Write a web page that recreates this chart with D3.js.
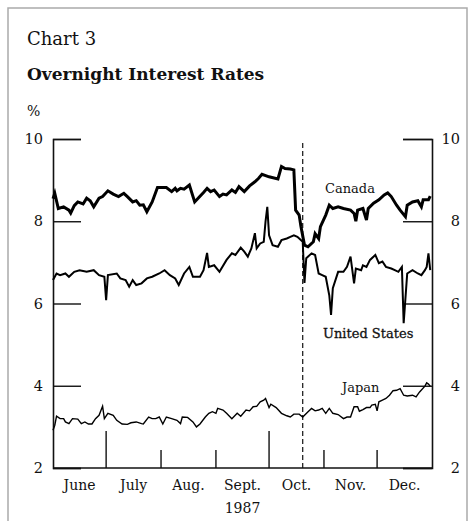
<!DOCTYPE html>
<html>
<head>
<meta charset="utf-8">
<script src="https://cdn.jsdelivr.net/npm/d3@7"></script>
<style>
    body { margin: 0; background: #fff; }
    svg text { font-family: "DejaVu Serif", serif; fill: #111; }
</style>
</head>
<body>
<div id="chart"></div>
<script>
// tick labels and month names
var yTicks = [2, 4, 6, 8, 10];
var monthLabels = ["June", "July", "Aug.", "Sept.", "Oct.", "Nov.", "Dec."];
var monthStarts = ["1987-06-01", "1987-07-01", "1987-08-01", "1987-09-01", "1987-10-01", "1987-11-01", "1987-12-01", "1988-01-01"];
var tallTicks = ["1987-07-01", "1987-10-01"];
var shortTicks = ["1987-08-01", "1987-09-01", "1987-11-01", "1987-12-01"];
var crashDate = "1987-10-20";

// overnight rates, %
var canada = [
    ["1987-06-01", 8.55], ["1987-06-02", 8.68], ["1987-06-04", 8.31], ["1987-06-07", 8.35],
    ["1987-06-10", 8.27], ["1987-06-11", 8.2], ["1987-06-13", 8.38], ["1987-06-15", 8.47],
    ["1987-06-18", 8.42], ["1987-06-20", 8.56], ["1987-06-22", 8.5], ["1987-06-24", 8.35],
    ["1987-06-27", 8.56], ["1987-06-29", 8.6], ["1987-07-02", 8.74], ["1987-07-05", 8.66],
    ["1987-07-08", 8.6], ["1987-07-11", 8.68], ["1987-07-13", 8.6], ["1987-07-16", 8.47],
    ["1987-07-18", 8.5], ["1987-07-20", 8.39], ["1987-07-22", 8.4], ["1987-07-24", 8.23],
    ["1987-07-27", 8.47], ["1987-07-30", 8.82], ["1987-08-04", 8.82], ["1987-08-07", 8.72],
    ["1987-08-09", 8.8], ["1987-08-10", 8.74], ["1987-08-12", 8.8], ["1987-08-14", 8.78],
    ["1987-08-17", 8.88], ["1987-08-20", 8.47], ["1987-08-23", 8.61], ["1987-08-25", 8.7],
    ["1987-08-27", 8.8], ["1987-08-29", 8.72], ["1987-08-31", 8.76], ["1987-09-03", 8.6],
    ["1987-09-05", 8.66], ["1987-09-07", 8.64], ["1987-09-10", 8.76], ["1987-09-12", 8.7],
    ["1987-09-14", 8.84], ["1987-09-17", 8.72], ["1987-09-20", 8.86], ["1987-09-23", 8.96],
    ["1987-09-25", 9.04], ["1987-09-27", 9.14], ["1987-10-01", 9.08], ["1987-10-06", 9.03],
    ["1987-10-08", 9.33], ["1987-10-10", 9.28], ["1987-10-13", 9.27], ["1987-10-15", 9.25],
    ["1987-10-16", 8.27], ["1987-10-18", 8.15], ["1987-10-19", 7.87], ["1987-10-21", 7.42],
    ["1987-10-23", 7.38], ["1987-10-26", 7.5], ["1987-10-27", 7.7], ["1987-10-29", 7.58],
    ["1987-10-30", 7.87], ["1987-11-02", 8.15], ["1987-11-04", 8.39], ["1987-11-06", 8.31],
    ["1987-11-09", 8.35], ["1987-11-12", 8.31], ["1987-11-16", 8.27], ["1987-11-18", 8.19],
    ["1987-11-19", 8.0], ["1987-11-20", 8.27], ["1987-11-23", 8.31], ["1987-11-25", 8.03],
    ["1987-11-26", 8.31], ["1987-11-29", 8.44], ["1987-12-02", 8.52], ["1987-12-05", 8.64],
    ["1987-12-07", 8.69], ["1987-12-09", 8.6], ["1987-12-12", 8.39], ["1987-12-14", 8.27],
    ["1987-12-17", 8.11], ["1987-12-18", 8.39], ["1987-12-21", 8.47], ["1987-12-24", 8.5],
    ["1987-12-26", 8.35], ["1987-12-27", 8.52], ["1987-12-30", 8.52], ["1987-12-31", 8.61]
];

var unitedStates = [
    ["1987-06-01", 6.57], ["1987-06-03", 6.73], ["1987-06-05", 6.69], ["1987-06-08", 6.73],
    ["1987-06-10", 6.65], ["1987-06-13", 6.77], ["1987-06-16", 6.81], ["1987-06-20", 6.77],
    ["1987-06-24", 6.81], ["1987-06-27", 6.69], ["1987-06-30", 6.65], ["1987-07-01", 6.08],
    ["1987-07-02", 6.69], ["1987-07-07", 6.73], ["1987-07-09", 6.61], ["1987-07-12", 6.57],
    ["1987-07-14", 6.41], ["1987-07-16", 6.57], ["1987-07-18", 6.45], ["1987-07-21", 6.49],
    ["1987-07-24", 6.61], ["1987-07-27", 6.65], ["1987-07-31", 6.73], ["1987-08-03", 6.81],
    ["1987-08-06", 6.69], ["1987-08-09", 6.61], ["1987-08-11", 6.45], ["1987-08-14", 6.73],
    ["1987-08-17", 6.89], ["1987-08-19", 6.65], ["1987-08-23", 6.65], ["1987-08-25", 6.81],
    ["1987-08-27", 7.23], ["1987-08-28", 6.89], ["1987-08-31", 6.93], ["1987-09-03", 6.77],
    ["1987-09-07", 7.06], ["1987-09-10", 7.22], ["1987-09-12", 7.18], ["1987-09-15", 7.36],
    ["1987-09-17", 7.26], ["1987-09-19", 7.14], ["1987-09-21", 7.34], ["1987-09-23", 7.71],
    ["1987-09-24", 7.34], ["1987-09-26", 7.46], ["1987-09-28", 7.5], ["1987-09-29", 7.99],
    ["1987-09-30", 8.35], ["1987-10-01", 7.66], ["1987-10-03", 7.42], ["1987-10-06", 7.38],
    ["1987-10-08", 7.54], ["1987-10-11", 7.58], ["1987-10-13", 7.62], ["1987-10-15", 7.66],
    ["1987-10-17", 7.62], ["1987-10-20", 7.5], ["1987-10-21", 6.5], ["1987-10-22", 7.1],
    ["1987-10-25", 7.22], ["1987-10-27", 7.18], ["1987-10-29", 6.73], ["1987-10-31", 6.69],
    ["1987-11-02", 6.65], ["1987-11-04", 6.2], ["1987-11-05", 5.72], ["1987-11-06", 6.37],
    ["1987-11-09", 6.77], ["1987-11-12", 6.77], ["1987-11-14", 6.89], ["1987-11-16", 7.14],
    ["1987-11-18", 6.49], ["1987-11-19", 6.85], ["1987-11-22", 6.81], ["1987-11-23", 6.93],
    ["1987-11-25", 6.89], ["1987-11-27", 7.06], ["1987-11-30", 7.18], ["1987-12-02", 6.98],
    ["1987-12-04", 7.02], ["1987-12-06", 6.89], ["1987-12-09", 6.85], ["1987-12-11", 6.81],
    ["1987-12-13", 6.77], ["1987-12-15", 6.89], ["1987-12-16", 5.52], ["1987-12-18", 6.73],
    ["1987-12-21", 6.81], ["1987-12-24", 6.73], ["1987-12-26", 6.69], ["1987-12-28", 6.81],
    ["1987-12-29", 6.89], ["1987-12-30", 7.22], ["1987-12-31", 6.81]
];

var japan = [
    ["1987-06-01", 2.92], ["1987-06-02", 3.04], ["1987-06-03", 3.26], ["1987-06-05", 3.2],
    ["1987-06-07", 3.2], ["1987-06-08", 3.12], ["1987-06-10", 3.08], ["1987-06-12", 3.2],
    ["1987-06-15", 3.19], ["1987-06-17", 3.08], ["1987-06-19", 3.12], ["1987-06-21", 3.07],
    ["1987-06-23", 3.07], ["1987-06-25", 3.2], ["1987-06-27", 3.28], ["1987-06-29", 3.5],
    ["1987-06-30", 3.2], ["1987-07-02", 3.33], ["1987-07-05", 3.28], ["1987-07-07", 3.16],
    ["1987-07-10", 3.07], ["1987-07-13", 3.06], ["1987-07-15", 3.1], ["1987-07-18", 3.12],
    ["1987-07-21", 3.08], ["1987-07-22", 3.07], ["1987-07-25", 3.24], ["1987-07-27", 3.2],
    ["1987-07-29", 3.2], ["1987-07-31", 3.24], ["1987-08-02", 3.07], ["1987-08-04", 3.24],
    ["1987-08-07", 3.2], ["1987-08-10", 3.16], ["1987-08-12", 3.08], ["1987-08-13", 3.24],
    ["1987-08-16", 3.23], ["1987-08-19", 3.12], ["1987-08-21", 3.0], ["1987-08-23", 3.07],
    ["1987-08-26", 3.24], ["1987-08-28", 3.33], ["1987-08-30", 3.37], ["1987-09-01", 3.33],
    ["1987-09-02", 3.45], ["1987-09-05", 3.41], ["1987-09-07", 3.33], ["1987-09-10", 3.2],
    ["1987-09-13", 3.33], ["1987-09-15", 3.26], ["1987-09-18", 3.41], ["1987-09-20", 3.39],
    ["1987-09-22", 3.49], ["1987-09-24", 3.5], ["1987-09-26", 3.61], ["1987-09-28", 3.65],
    ["1987-09-29", 3.69], ["1987-10-01", 3.47], ["1987-10-02", 3.55], ["1987-10-05", 3.47],
    ["1987-10-08", 3.33], ["1987-10-11", 3.27], ["1987-10-13", 3.24], ["1987-10-15", 3.31],
    ["1987-10-18", 3.31], ["1987-10-20", 3.24], ["1987-10-23", 3.37], ["1987-10-25", 3.45],
    ["1987-10-27", 3.39], ["1987-10-29", 3.41], ["1987-10-31", 3.45], ["1987-11-02", 3.33],
    ["1987-11-04", 3.45], ["1987-11-06", 3.33], ["1987-11-09", 3.3], ["1987-11-12", 3.2],
    ["1987-11-14", 3.24], ["1987-11-16", 3.24], ["1987-11-18", 3.49], ["1987-11-20", 3.49],
    ["1987-11-21", 3.38], ["1987-11-23", 3.42], ["1987-11-25", 3.47], ["1987-11-27", 3.47],
    ["1987-11-28", 3.53], ["1987-11-30", 3.55], ["1987-12-01", 3.39], ["1987-12-02", 3.61],
    ["1987-12-04", 3.65], ["1987-12-06", 3.69], ["1987-12-08", 3.77], ["1987-12-10", 3.88],
    ["1987-12-12", 3.89], ["1987-12-14", 3.93], ["1987-12-16", 3.77], ["1987-12-18", 3.75],
    ["1987-12-21", 3.77], ["1987-12-23", 3.73], ["1987-12-25", 3.85], ["1987-12-28", 3.99],
    ["1987-12-29", 4.07], ["1987-12-30", 4.04], ["1987-12-31", 3.99]
];

drawChart();

function drawChart() {
    var W = 475, H = 521;
    var parse = d3.timeParse("%Y-%m-%d");
    var left = 53, right = 432, top = 139, bottom = 468;

    var svg = d3.select("#chart").append("svg")
        .attr("width", W)
        .attr("height", H);

    // grey frame around the whole chart
    svg.append("rect")
        .attr("x", 8).attr("y", 8)
        .attr("width", 459).attr("height", 540)
        .attr("fill", "none")
        .attr("stroke", "#aaa")
        .attr("stroke-width", 1.5);

    svg.append("text").attr("x", 27).attr("y", 45)
        .style("font-size", "18px").text("Chart 3");
    svg.append("text").attr("x", 27).attr("y", 80)
        .style("font-size", "17px").style("font-weight", "bold")
        .text("Overnight Interest Rates");
    svg.append("text").attr("x", 27).attr("y", 116)
        .style("font-size", "14px").text("%");

    var x = d3.scaleTime()
        .domain([parse(monthStarts[0]), parse(monthStarts[monthStarts.length - 1])])
        .range([left, right]);
    var y = d3.scaleLinear().domain([2, 10]).range([bottom, top]);

    // left and right value axes, ticks pointing inwards
    svg.append("g")
        .attr("transform", "translate(" + left + ",0)")
        .call(d3.axisRight(y).tickValues(yTicks).tickSize(28).tickFormat(""))
        .call(styleAxis);
    svg.append("g")
        .attr("transform", "translate(" + right + ",0)")
        .call(d3.axisLeft(y).tickValues(yTicks).tickSize(29).tickFormat(""))
        .call(styleAxis);

    svg.selectAll(".ylab-l").data(yTicks).enter().append("text")
        .attr("x", 43).attr("y", function (d) { return y(d); })
        .attr("dy", "0.36em").attr("text-anchor", "end")
        .style("font-size", "14.5px").text(function (d) { return d; });
    svg.selectAll(".ylab-r").data(yTicks).enter().append("text")
        .attr("x", 460).attr("y", function (d) { return y(d); })
        .attr("dy", "0.36em").attr("text-anchor", "end")
        .style("font-size", "14.5px").text(function (d) { return d; });

    // bottom axis with month boundary ticks
    svg.append("line")
        .attr("x1", left).attr("x2", right)
        .attr("y1", bottom).attr("y2", bottom)
        .attr("stroke", "#111").attr("stroke-width", 1.6);
    svg.selectAll(".tall").data(tallTicks).enter().append("line")
        .attr("x1", function (d) { return x(parse(d)); })
        .attr("x2", function (d) { return x(parse(d)); })
        .attr("y1", bottom).attr("y2", bottom - 37)
        .attr("stroke", "#111").attr("stroke-width", 1.4);
    svg.selectAll(".short").data(shortTicks).enter().append("line")
        .attr("x1", function (d) { return x(parse(d)); })
        .attr("x2", function (d) { return x(parse(d)); })
        .attr("y1", bottom).attr("y2", bottom - 18)
        .attr("stroke", "#111").attr("stroke-width", 1.4);

    svg.selectAll(".month").data(monthLabels).enter().append("text")
        .attr("x", function (d, i) {
            return (x(parse(monthStarts[i])) + x(parse(monthStarts[i + 1]))) / 2;
        })
        .attr("y", 490)
        .attr("text-anchor", "middle")
        .style("font-size", "14px")
        .text(function (d) { return d; });
    svg.append("text")
        .attr("x", (x(parse("1987-09-01")) + x(parse("1987-10-01"))) / 2)
        .attr("y", 513)
        .attr("text-anchor", "middle")
        .style("font-size", "14px")
        .text("1987");

    // dashed marker at the October crash
    svg.append("line")
        .attr("x1", x(parse(crashDate))).attr("x2", x(parse(crashDate)))
        .attr("y1", 143).attr("y2", bottom)
        .attr("stroke", "#111").attr("stroke-width", 1.2)
        .attr("stroke-dasharray", "5,3");

    var line = d3.line()
        .x(function (d) { return x(parse(d[0])); })
        .y(function (d) { return y(d[1]); });

    var series = [
        { data: japan, width: 1.4 },
        { data: unitedStates, width: 2 },
        { data: canada, width: 3 }
    ];
    svg.selectAll(".series").data(series).enter().append("path")
        .attr("d", function (d) { return line(d.data); })
        .attr("fill", "none")
        .attr("stroke", "#000")
        .attr("stroke-width", function (d) { return d.width; })
        .attr("stroke-linejoin", "miter");

    svg.append("text").attr("x", 325).attr("y", 193)
        .style("font-size", "13px").text("Canada");
    svg.append("text").attr("x", 323).attr("y", 338)
        .style("font-size", "13px").style("stroke", "#111").style("stroke-width", 0.3)
        .text("United States");
    svg.append("text").attr("x", 342).attr("y", 392)
        .style("font-size", "13px").text("Japan");

    function styleAxis(g) {
        g.select(".domain").attr("stroke", "#111").attr("stroke-width", 1.6);
        g.selectAll(".tick line").attr("stroke", "#111").attr("stroke-width", 1.4);
    }
}
</script>
</body>
</html>
